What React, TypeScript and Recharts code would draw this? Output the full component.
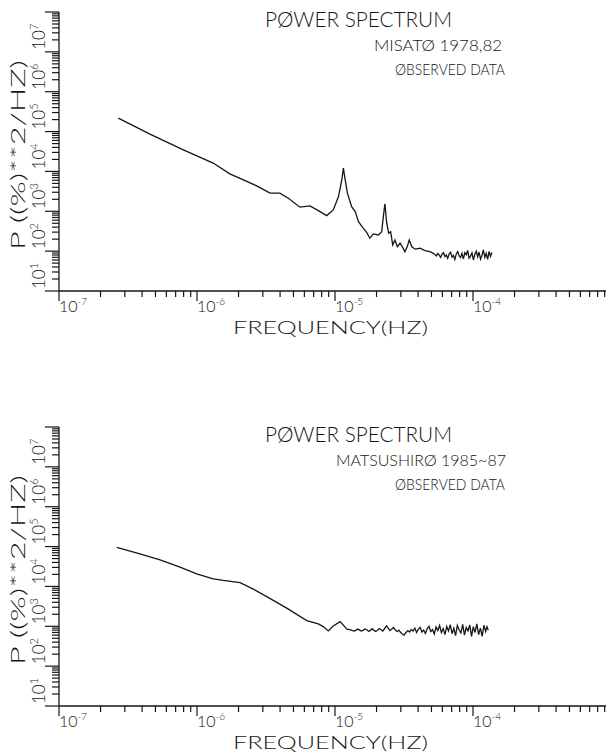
import React from 'react';
import { LineChart, Line, XAxis, YAxis } from 'recharts';

// Misato 1978-82, observed power spectrum
const misatoFreq = [
  2.69e-7, 4.56e-7, 7.96e-7, 1.31e-6, 1.73e-6, 2.71e-6, 3.38e-6, 3.99e-6, 4.59e-6, 5.57e-6,
  6.59e-6, 7.57e-6, 8.71e-6, 9.72e-6, 1.06e-5, 1.12e-5, 1.15e-5, 1.18e-5, 1.23e-5, 1.32e-5,
  1.4e-5, 1.48e-5, 1.6e-5, 1.7e-5, 1.79e-5, 1.9e-5, 2.06e-5, 2.18e-5, 2.24e-5, 2.3e-5,
  2.37e-5, 2.45e-5, 2.53e-5, 2.62e-5, 2.72e-5, 2.83e-5, 2.96e-5, 3.09e-5, 3.21e-5, 3.34e-5,
  3.45e-5, 3.6e-5, 3.8e-5, 4.13e-5, 4.49e-5, 4.88e-5, 5.16e-5,
  5.3e-5, 5.43e-5, 5.56e-5, 5.69e-5, 5.83e-5, 5.97e-5, 6.11e-5, 6.26e-5, 6.41e-5, 6.56e-5,
  6.72e-5, 6.88e-5, 7.05e-5, 7.22e-5, 7.39e-5, 7.57e-5, 7.75e-5, 7.94e-5, 8.13e-5, 8.32e-5,
  8.52e-5, 8.73e-5, 8.94e-5, 9.15e-5, 9.37e-5, 9.6e-5, 9.83e-5, 1.007e-4, 1.031e-4, 1.056e-4,
  1.081e-4, 1.107e-4, 1.134e-4, 1.161e-4, 1.189e-4, 1.218e-4, 1.247e-4, 1.277e-4, 1.308e-4,
  1.339e-4, 1.37e-4,
];
const misatoPower = [
  2.18e5, 8.65e4, 3.49e4, 1.62e4, 8.71e3, 4.35e3, 2.85e3, 2.85e3, 2.13e3, 1.27e3,
  1.37e3, 1.04e3, 780, 1.08e3, 2.34e3, 6.15e3, 1.21e4, 6.79e3, 2.85e3, 1.31e3,
  982, 551, 376, 292, 211, 270, 255, 309, 736, 1.53e3,
  502, 282, 309, 143, 191, 130, 158, 125, 97, 130,
  191, 130, 112, 118, 103, 97, 88,
  82, 76, 88, 79, 70, 84, 91, 73, 80, 66,
  86, 94, 71, 78, 62, 85, 98, 76, 69, 88,
  64, 92, 81, 104, 67, 75, 90, 60, 84, 100,
  72, 95, 63, 78, 108, 70, 88, 62, 99,
  74, 92, 80,
];

// Matsushiro 1985-87, observed power spectrum
const matsushiroFreq = [
  2.62e-7, 3.86e-7, 5.4e-7, 7.53e-7, 9.95e-7, 1.31e-6, 1.55e-6, 2.05e-6, 2.56e-6, 3.2e-6,
  4.47e-6, 6.24e-6, 7.57e-6, 8.22e-6, 8.94e-6, 9.72e-6, 1.09e-5, 1.22e-5,
  1.3e-5, 1.34e-5, 1.38e-5, 1.42e-5, 1.46e-5, 1.51e-5, 1.55e-5, 1.6e-5, 1.65e-5, 1.7e-5,
  1.75e-5, 1.8e-5, 1.86e-5, 1.91e-5, 1.97e-5, 2.03e-5, 2.09e-5, 2.15e-5, 2.22e-5, 2.29e-5,
  2.36e-5, 2.43e-5, 2.5e-5, 2.58e-5, 2.65e-5, 2.73e-5, 2.82e-5, 2.9e-5, 2.99e-5, 3.08e-5,
  3.17e-5, 3.27e-5, 3.37e-5, 3.47e-5,
  3.57e-5, 3.68e-5, 3.79e-5, 3.9e-5, 4.02e-5, 4.14e-5, 4.26e-5, 4.39e-5, 4.52e-5, 4.66e-5,
  4.8e-5, 4.94e-5, 5.09e-5, 5.24e-5, 5.4e-5, 5.56e-5, 5.73e-5, 5.9e-5, 6.08e-5, 6.26e-5,
  6.45e-5, 6.64e-5, 6.84e-5, 7.05e-5, 7.26e-5, 7.48e-5, 7.7e-5, 7.93e-5, 8.17e-5, 8.42e-5,
  8.67e-5, 8.93e-5, 9.2e-5, 9.47e-5, 9.76e-5, 1.005e-4, 1.035e-4, 1.066e-4, 1.098e-4, 1.131e-4,
  1.165e-4, 1.2e-4, 1.236e-4, 1.263e-4, 1.29e-4,
];
const matsushiroPower = [
  9.49e4, 6.59e4, 4.66e4, 3.06e4, 2.07e4, 1.55e4, 1.41e4, 1.25e4, 8.55e3, 5.57e3,
  2.85e3, 1.39e3, 1.15e3, 982, 766, 1.02e3, 1.31e3, 845,
  813, 780, 760, 800, 850, 800, 760, 790, 860, 820,
  750, 780, 870, 800, 740, 790, 880, 830, 760, 880,
  1020, 900, 780, 850, 930, 820, 740, 800, 700, 640,
  600, 700, 780, 720,
  820, 760, 900, 700, 850, 940, 720, 800, 660, 880,
  1000, 740, 820, 640, 960, 780, 1050, 700, 880, 620,
  990, 760, 1100, 650, 900, 580, 1050, 820, 680, 1120,
  600, 940, 760, 1080, 560, 980, 700, 1150, 620, 900,
  560, 1060, 740, 980, 800,
];

const freqExponents = [-7, -6, -5, -4];
const powerExponents = [1, 2, 3, 4, 5, 6, 7];
const mantissas = [1, 2, 3, 4, 5, 6, 7, 8, 9];

const freqTicks = [
  ...freqExponents.flatMap((e) => mantissas.map((m) => Number((m * Math.pow(10, e)).toPrecision(3)))),
  1e-3,
];
const powerTicks = [
  ...powerExponents.flatMap((e) => mantissas.map((m) => Number((m * Math.pow(10, e)).toPrecision(3)))),
  1e8,
];

const INK = '#161616';
const FONT = 'Lato, "DejaVu Sans", "Liberation Sans", sans-serif';
const WEIGHT = 300;

function splitLog(v: number) {
  const e = Math.floor(Math.log10(v) + 1e-9);
  const m = Math.round(v / Math.pow(10, e));
  return { e, m };
}

const FreqTick = (props: any) => {
  const { x, y, payload } = props;
  const { e, m } = splitLog(payload.value);
  const major = m === 1;
  return (
    <g>
      <line x1={x} y1={y} x2={x} y2={y + (major ? 10 : 6)} stroke={INK} strokeWidth={1.2} />
      {major && e < -3 && (
        <text x={x} y={y + 21} fill={INK} fontFamily={FONT} fontWeight={WEIGHT} fontSize={16} textAnchor="start">
          10
          <tspan dy={-7} fontSize={10}>{`-${-e}`}</tspan>
        </text>
      )}
    </g>
  );
};

const PowerTick = (props: any) => {
  const { x, y, payload } = props;
  const { e, m } = splitLog(payload.value);
  const major = m === 1;
  return (
    <g>
      <line x1={x - (major ? 14 : 7)} y1={y} x2={x} y2={y} stroke={INK} strokeWidth={1.2} />
      {major && e < 8 && (
        <text
          transform={`translate(${x - 14},${y - 2}) rotate(-90)`}
          fill={INK}
          fontFamily={FONT}
          fontWeight={WEIGHT}
          fontSize={17}
          textAnchor="start"
        >
          10
          <tspan dy={-7} fontSize={11}>{`${e}`}</tspan>
        </text>
      )}
    </g>
  );
};

type PanelProps = {
  top: number;
  freq: number[];
  power: number[];
  station: string;
  stationX: number;
  stationLen: number;
};

const CHART_W = 620;
const CHART_H = 400;

const Panel = ({ top, freq, power, station, stationX, stationLen }: PanelProps) => {
  const rows = freq.map((f, i) => ({ f, p: power[i] }));
  return (
    <div style={{ position: 'absolute', left: 0, top, width: CHART_W, height: CHART_H }}>
      <LineChart width={CHART_W} height={CHART_H} data={rows} margin={{ top: 12, right: 9, bottom: 0, left: 0 }}>
        <XAxis
          dataKey="f"
          type="number"
          scale="log"
          domain={[1e-7, 1e-3]}
          ticks={freqTicks}
          interval={0}
          height={109}
          tickSize={0}
          tickMargin={0}
          tickLine={false}
          axisLine={{ stroke: INK, strokeWidth: 1.3 }}
          tick={(p: any) => <FreqTick {...p} />}
          allowDataOverflow
        />
        <YAxis
          dataKey="p"
          type="number"
          scale="log"
          domain={[10, 1e8]}
          ticks={powerTicks}
          interval={0}
          width={59}
          tickSize={0}
          tickMargin={0}
          tickLine={false}
          axisLine={{ stroke: INK, strokeWidth: 1.3 }}
          tick={(p: any) => <PowerTick {...p} />}
          allowDataOverflow
        />
        <Line
          dataKey="p"
          type="linear"
          dot={false}
          stroke={INK}
          strokeWidth={1.3}
          isAnimationActive={false}
        />
      </LineChart>
      <svg
        width={CHART_W}
        height={CHART_H}
        style={{ position: 'absolute', left: 0, top: 0, pointerEvents: 'none' }}
      >
        <g fill={INK} fontFamily={FONT} fontWeight={WEIGHT}>
          <text x={265} y={27} fontSize={21} textLength={187} lengthAdjust="spacingAndGlyphs">
            PØWER SPECTRUM
          </text>
          <text x={stationX} y={51} fontSize={15} textLength={stationLen} lengthAdjust="spacingAndGlyphs">
            {station}
          </text>
          <text x={395} y={75} fontSize={15} textLength={110} lengthAdjust="spacingAndGlyphs">
            ØBSERVED DATA
          </text>
          <text x={233} y={334} fontSize={18} textLength={195} lengthAdjust="spacingAndGlyphs">
            FREQUENCY(HZ)
          </text>
          <text
            transform="translate(25,250) rotate(-90)"
            fontSize={20}
            textLength={190}
            lengthAdjust="spacingAndGlyphs"
          >
            P ((%)**2/HZ)
          </text>
        </g>
      </svg>
    </div>
  );
};

export default function App() {
  return (
    <div style={{ position: 'absolute', left: 0, top: 0, width: 606, height: 754, overflow: 'hidden', background: '#fff' }}>
      <Panel
        top={0}
        freq={misatoFreq}
        power={misatoPower}
        station="MISATØ 1978,82"
        stationX={374}
        stationLen={128}
      />
      <Panel
        top={415}
        freq={matsushiroFreq}
        power={matsushiroPower}
        station="MATSUSHIRØ 1985~87"
        stationX={336}
        stationLen={170}
      />
    </div>
  );
}
